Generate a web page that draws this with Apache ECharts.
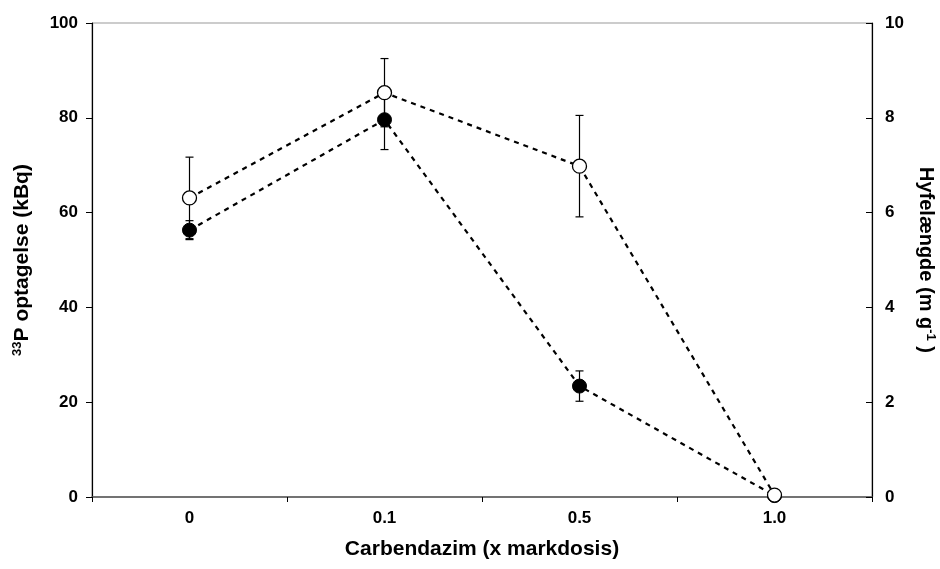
<!DOCTYPE html>
<html>
<head>
<meta charset="utf-8">
<script src="https://cdn.jsdelivr.net/npm/echarts@6/dist/echarts.min.js"></script>
<style>
html,body{margin:0;padding:0;background:#fff;}
#chart{width:940px;height:569px;}
</style>
</head>
<body>
<div id="chart"></div>
<script>
// Data
var categories = ['0', '0.1', '0.5', '1.0'];
// 33P uptake (kBq), left axis - filled circles
var uptake = [56.3, 79.6, 23.4, 0.3];
var uptakeErr = [2.0, 6.3, 3.2, 0];
// Hyphal length (m g-1), right axis - open circles
var hyphae = [6.31, 8.53, 6.98, 0.04];
var hyphaeErr = [0.86, 0.72, 1.07, 0];
var leftTicks = [0, 20, 40, 60, 80, 100];
var rightTicks = [0, 2, 4, 6, 8, 10];

var FONT = "'Liberation Sans', Arial, sans-serif";

function errData(vals, errs) {
  return vals.map(function (v, i) { return [i, v - errs[i], v + errs[i]]; });
}

function errRender(params, api) {
  var i = api.value(0);
  var lo = api.coord([i, api.value(1)]);
  var hi = api.coord([i, api.value(2)]);
  var w = 4;
  var st = { stroke: '#000', lineWidth: 1.2 };
  if (Math.abs(hi[1] - lo[1]) < 1) return null;
  return {
    type: 'group',
    children: [
      { type: 'line', shape: { x1: lo[0], y1: lo[1], x2: hi[0], y2: hi[1] }, style: st },
      { type: 'line', shape: { x1: lo[0] - w, y1: lo[1], x2: lo[0] + w, y2: lo[1] }, style: st },
      { type: 'line', shape: { x1: hi[0] - w, y1: hi[1], x2: hi[0] + w, y2: hi[1] }, style: st }
    ]
  };
}

var chart = echarts.init(document.getElementById('chart'), null, { renderer: 'canvas' });
var labelStyle = { color: '#000', fontWeight: 'bold', fontSize: 17, fontFamily: FONT };

chart.setOption({
  animation: false,
  backgroundColor: '#fff',
  grid: {
    left: 92, right: 68, top: 23, bottom: 72,
    containLabel: false, outerBoundsMode: 'none',
    show: true, borderColor: '#999', borderWidth: 1
  },
  xAxis: {
    type: 'category',
    data: categories,
    boundaryGap: true,
    axisLine: { lineStyle: { color: '#555', width: 1.5 } },
    axisTick: { show: true, inside: false, length: 5, lineStyle: { color: '#000', width: 1 } },
    axisLabel: Object.assign({ margin: 13 }, labelStyle),
    name: 'Carbendazim (x markdosis)',
    nameLocation: 'middle',
    nameGap: 42,
    nameTextStyle: { color: '#000', fontWeight: 'bold', fontSize: 21, fontFamily: FONT }
  },
  yAxis: [
    {
      type: 'value', min: leftTicks[0], max: leftTicks[leftTicks.length - 1], interval: 20,
      axisLine: { show: true, lineStyle: { color: '#000', width: 1.2 } },
      axisTick: { show: true, inside: false, length: 6, lineStyle: { color: '#000' } },
      splitLine: { show: false },
      axisLabel: Object.assign({ margin: 14 }, labelStyle),
      name: '{sup|33}{main|P optagelse (kBq)}',
      nameLocation: 'middle',
      nameGap: 70,
      nameRotate: 90,
      nameTextStyle: {
        align: 'center', verticalAlign: 'middle',
        rich: {
          main: { fontSize: 21, fontWeight: 'bold', fontFamily: FONT, color: '#000', lineHeight: 23 },
          sup: { fontSize: 13, fontWeight: 'bold', fontFamily: FONT, color: '#000', lineHeight: 13, verticalAlign: 'top' }
        }
      }
    },
    {
      type: 'value', min: rightTicks[0], max: rightTicks[rightTicks.length - 1], interval: 2,
      position: 'right',
      axisLine: { show: true, lineStyle: { color: '#000', width: 1.2 } },
      axisTick: { show: true, inside: true, length: 6, lineStyle: { color: '#000' } },
      splitLine: { show: false },
      axisLabel: Object.assign({ margin: 13 }, labelStyle),
      name: '{main|Hyfelængde (m g}{sup|-1}{main| )}',
      nameLocation: 'middle',
      nameGap: 54,
      nameRotate: -90,
      nameTextStyle: {
        align: 'center', verticalAlign: 'middle',
        rich: {
          main: { fontSize: 20, fontWeight: 'bold', fontFamily: FONT, color: '#000', lineHeight: 22 },
          sup: { fontSize: 13, fontWeight: 'bold', fontFamily: FONT, color: '#000', lineHeight: 13, verticalAlign: 'top' }
        }
      }
    }
  ],
  series: [
    {
      type: 'custom', name: 'uptakeErr', xAxisIndex: 0, yAxisIndex: 0, z: 2,
      renderItem: errRender, data: errData(uptake, uptakeErr), silent: true
    },
    {
      type: 'custom', name: 'hyphaeErr', xAxisIndex: 0, yAxisIndex: 1, z: 2,
      renderItem: errRender, data: errData(hyphae, hyphaeErr), silent: true
    },
    {
      type: 'line', name: 'uptake', yAxisIndex: 0, data: uptake, z: 3,
      symbol: 'circle', symbolSize: 14,
      itemStyle: { color: '#000', borderColor: '#000', borderWidth: 1 },
      lineStyle: { color: '#000', width: 2.2, type: [5, 5] }
    },
    {
      type: 'line', name: 'hyphae', yAxisIndex: 1, data: hyphae, z: 4,
      symbol: 'circle', symbolSize: 14,
      itemStyle: { color: '#fff', borderColor: '#000', borderWidth: 1.3 },
      lineStyle: { color: '#000', width: 2.2, type: [5, 5] }
    }
  ]
});
</script>
</body>
</html>
